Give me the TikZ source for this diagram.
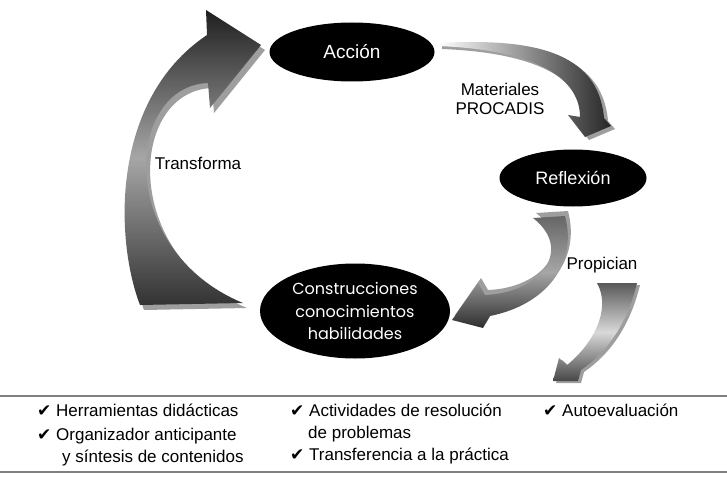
\documentclass[tikz,border=0pt]{standalone}
\usepackage{fontspec}
\setmainfont{Liberation Sans}
\newfontfamily\roundfont{Poppins}
\newfontfamily\symfont{DejaVu Sans}
\usetikzlibrary{shapes.geometric}
\newcommand{\chk}{{\symfont ✔}}

\tikzset{
  etapa/.style={ellipse, fill=black, text=white, inner sep=0pt},
  rotulo/.style={font=\fontsize{17}{19}\selectfont, align=center},
  lista/.style={anchor=base west, font=\fontsize{17}{22}\selectfont, inner sep=0pt},
  sombra/.style={fill=black!38},
  regla/.style={draw=black!50, line width=1.5pt},
  flechaT/.style={insert path={(140,305) .. controls (115,240) and (110,100) .. (207,35) -- (206,10) -- (261,45) -- (210,108) -- (208,83) .. controls (125,86) and (115,250) .. (243,303) -- cycle}},
  flechaM/.style={insert path={(438,43) .. controls (530,38) and (598,50) .. (604,118) -- (611,126) -- (585,137) -- (568,115) -- (580,117) .. controls (580,80) and (540,50) .. (438,46) -- cycle}},
  flechaR/.style={insert path={(533,218) -- (565,216) .. controls (578,265) and (545,305) .. (490,316) -- (483,328) -- (452,320) -- (478,283) -- (485,295) .. controls (540,293) and (574,250) .. (533,218) -- cycle}},
  flechaP/.style={insert path={(597,283) -- (637,283) .. controls (628,320) and (610,350) .. (581,370) -- (578,381) -- (553,381) -- (559,358) -- (567,365) .. controls (592,345) and (612,310) .. (597,283) -- cycle}}
}

\begin{document}
\begin{tikzpicture}[x=1pt,y=-1pt]
  \useasboundingbox (0,0) rectangle (727,476);
  \fill[sombra, shift={(4,5)}, flechaT];
  \shade[top color=black!88, bottom color=black!80, middle color=black!35, flechaT];
  \fill[sombra, shift={(4,3)}, flechaM];
  \shade[left color=white, right color=black!85, flechaM];
  \fill[sombra, shift={(3,-5)}, flechaR];
  \shade[top color=black!60, bottom color=black!82, middle color=black!35, flechaR];
  \fill[sombra, shift={(3,2)}, flechaP];
  \shade[top color=black!65, bottom color=black!72, middle color=black!15, flechaP];

  \node[etapa, minimum width=165, minimum height=59, font=\fontsize{19}{22}\selectfont] (accion) at (352,52) {Acción};
  \node[etapa, minimum width=147, minimum height=57, font=\fontsize{18}{22}\selectfont] (reflexion) at (573,178) {Reflexión};
  \node[etapa, minimum width=190, minimum height=95, align=center, font=\roundfont\fontsize{16}{22.5}\selectfont] (construcciones) at (355,311) {Construcciones\\conocimientos\\habilidades};

  \node[rotulo] (transforma) at (198,163) {Transforma};
  \node[rotulo] (materiales) at (500,99) {Materiales\\PROCADIS};
  \node[rotulo] (propician) at (602,265) {Propician};

  \draw[regla] (0,396) -- (727,396);
  \draw[regla] (0,472) -- (727,472);

  \node[lista] (h1) at (37,416) {\chk\ Herramientas didácticas};
  \node[lista] (h2) at (37,440) {\chk\ Organizador anticipante};
  \node[lista] (h3) at (62,462) {y síntesis de contenidos};
  \node[lista] (a1) at (290,416) {\chk\ Actividades de resolución};
  \node[lista] (a2) at (308,438) {de problemas};
  \node[lista] (a3) at (290,460) {\chk\ Transferencia a la práctica};
  \node[lista] (e1) at (543,416) {\chk\ Autoevaluación};
\end{tikzpicture}
\end{document}
